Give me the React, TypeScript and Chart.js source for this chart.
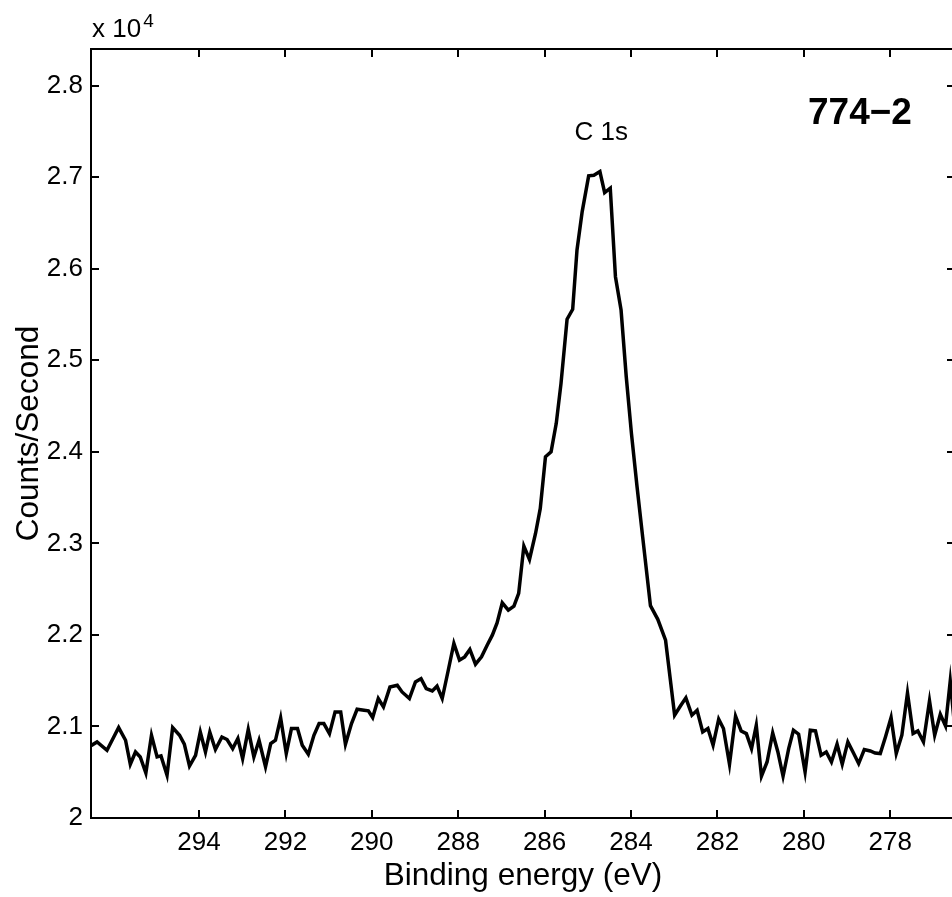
import React, { useEffect, useRef } from "react";
import { Chart, registerables } from "chart.js";

Chart.register(...registerables);

// Binding energy (eV), read left to right (high -> low)
const bindingEnergy: number[] = [
  296.5, 296.36, 296.13, 295.86, 295.7, 295.59, 295.47, 295.36, 295.23, 295.1,
  294.97, 294.88, 294.74, 294.61, 294.45, 294.34, 294.22, 294.08, 293.97, 293.85,
  293.75, 293.62, 293.47, 293.35, 293.22, 293.1, 292.99, 292.86, 292.73, 292.61,
  292.46, 292.34, 292.23, 292.11, 291.98, 291.86, 291.72, 291.61, 291.47, 291.34,
  291.22, 291.11, 290.98, 290.85, 290.72, 290.61, 290.47, 290.34, 290.18, 290.08,
  289.98, 289.85, 289.73, 289.58, 289.41, 289.3, 289.13, 288.99, 288.86, 288.74,
  288.6, 288.49, 288.37, 288.23, 288.1, 287.97, 287.85, 287.73, 287.6, 287.46,
  287.33, 287.21, 287.1, 286.98, 286.84, 286.71, 286.6, 286.48, 286.35, 286.21,
  286.1, 285.98, 285.85, 285.73, 285.62, 285.48, 285.35, 285.25, 285.13, 284.98,
  284.86, 284.72, 284.61, 284.48, 284.36, 284.23, 284.11, 283.99, 283.86, 283.73,
  283.55, 283.38, 283.2, 282.99, 282.86, 282.73, 282.59, 282.47, 282.34, 282.22,
  282.1, 281.97, 281.86, 281.72, 281.58, 281.45, 281.33, 281.21, 281.1, 280.98,
  280.85, 280.72, 280.6, 280.48, 280.35, 280.24, 280.12, 279.97, 279.85, 279.73,
  279.6, 279.48, 279.36, 279.23, 279.11, 278.98, 278.85, 278.73, 278.6, 278.46,
  278.35, 278.23, 278.11, 277.98, 277.86, 277.73, 277.6, 277.47, 277.36, 277.23,
  277.09, 276.97, 276.84, 276.72, 276.61, 276.5,
];

// Counts per second
const countsPerSecond: number[] = [
  20790, 20831, 20740, 20988, 20849, 20587, 20721, 20667, 20492, 20904,
  20667, 20678, 20467, 20988, 20904, 20806, 20568, 20685, 20940, 20721,
  20937, 20748, 20885, 20857, 20758, 20868, 20649, 20966, 20667, 20849,
  20560, 20813, 20849, 21093, 20704, 20977, 20977, 20795, 20696, 20904,
  21032, 21032, 20922, 21159, 21159, 20806, 21032, 21188, 21177, 21170,
  21097, 21305, 21213, 21430, 21450, 21377, 21305, 21487, 21523, 21414,
  21388, 21440, 21305, 21614, 21906, 21724, 21760, 21841, 21680, 21760,
  21888, 21997, 22131, 22350, 22270, 22314, 22453, 22970, 22824, 23108,
  23382, 23946, 24000, 24311, 24748, 25448, 25557, 26205, 26624, 27014,
  27021, 27061, 26831, 26879, 25913, 25549, 24820, 24201, 23618, 23071,
  22320, 22170, 21942, 21123, 21221, 21312, 21123, 21177, 20940, 20977,
  20795, 21079, 20977, 20587, 21112, 20951, 20922, 20758, 21013, 20456,
  20612, 20929, 20721, 20456, 20758, 20959, 20915, 20503, 20959, 20951,
  20685, 20721, 20612, 20806, 20587, 20831, 20710, 20595, 20748, 20732,
  20710, 20704, 20885, 21097, 20704, 20904, 21366, 20922, 20951, 20831,
  21279, 20904, 21133, 21006, 21497, 20960,
];

const xTickValues: number[] = [294, 292, 290, 288, 286, 284, 282, 280, 278];
const yTickValues: number[] = [20000, 21000, 22000, 23000, 24000, 25000, 26000, 27000, 28000];
const xLimits: number[] = [276.5, 296.5];
const yLimits: number[] = [20000, 28400];

const xTitle = "Binding energy (eV)";
const yTitle = "Counts/Second";
const peakLabel = "C 1s";
const peakLabelAt: number[] = [284.69, 27410];
const sampleLabel = "774\u22122";
const sampleLabelAt: number[] = [278.7, 27582];
const exponentBase = "x 10";
const exponentPower = "4";

const FONT = "'Liberation Sans', Arial, Helvetica, sans-serif";

const framePlugin = {
  id: "matlabFrame",
  afterDatasetsDraw(chart: any) {
    const { ctx, chartArea: a, scales } = chart;
    const xs = scales.x;
    const ys = scales.y;
    ctx.save();
    ctx.strokeStyle = "#000";
    ctx.lineWidth = 2;
    ctx.strokeRect(a.left, a.top, a.right - a.left, a.bottom - a.top);
    const tl = 8;
    ctx.beginPath();
    xTickValues.forEach((v) => {
      const px = Math.round(xs.getPixelForValue(v));
      ctx.moveTo(px, a.bottom);
      ctx.lineTo(px, a.bottom - tl);
      ctx.moveTo(px, a.top);
      ctx.lineTo(px, a.top + tl);
    });
    yTickValues.forEach((v) => {
      const py = Math.round(ys.getPixelForValue(v));
      ctx.moveTo(a.left, py);
      ctx.lineTo(a.left + tl, py);
      ctx.moveTo(a.right, py);
      ctx.lineTo(a.right - tl, py);
    });
    ctx.stroke();

    ctx.fillStyle = "#000";
    // exponent label
    ctx.textBaseline = "alphabetic";
    ctx.textAlign = "left";
    ctx.font = `26px ${FONT}`;
    ctx.fillText(exponentBase, a.left + 1, 37);
    const w = ctx.measureText(exponentBase).width;
    ctx.font = `19px ${FONT}`;
    ctx.fillText(exponentPower, a.left + 1 + w + 2, 27);

    // peak label
    ctx.font = `26px ${FONT}`;
    ctx.textAlign = "center";
    ctx.fillText(peakLabel, xs.getPixelForValue(peakLabelAt[0]), ys.getPixelForValue(peakLabelAt[1]));

    // sample label
    ctx.font = `bold 37px ${FONT}`;
    ctx.fillText(sampleLabel, xs.getPixelForValue(sampleLabelAt[0]), ys.getPixelForValue(sampleLabelAt[1]));

    // axis titles
    ctx.font = `31.5px ${FONT}`;
    ctx.textAlign = "center";
    ctx.fillText(xTitle, (a.left + a.right) / 2, 885);
    ctx.save();
    ctx.translate(38, (a.top + a.bottom) / 2);
    ctx.rotate(-Math.PI / 2);
    ctx.fillText(yTitle, 0, 0);
    ctx.restore();

    ctx.restore();
  },
};

export default function App() {
  const ref = useRef<HTMLCanvasElement | null>(null);

  useEffect(() => {
    if (!ref.current) return;
    const points = bindingEnergy.map((e, i) => ({ x: e, y: countsPerSecond[i] }));
    const chart = new Chart(ref.current, {
      type: "line",
      data: {
        datasets: [
          {
            data: points,
            borderColor: "#000",
            borderWidth: 3.5,
            pointRadius: 0,
            tension: 0,
            fill: false,
          },
        ],
      },
      options: {
        animation: false,
        responsive: false,
        devicePixelRatio: 1,
        layout: { padding: { top: 49, right: 20, left: 0, bottom: 0 } },
        plugins: { legend: { display: false }, tooltip: { enabled: false } },
        events: [],
        scales: {
          x: {
            type: "linear",
            reverse: true,
            min: xLimits[0],
            max: xLimits[1],
            grid: { display: false, drawTicks: false },
            border: { display: false },
            afterBuildTicks: (s: any) => {
              s.ticks = xTickValues.map((v) => ({ value: v }));
            },
            afterFit: (s: any) => {
              s.height = 79;
            },
            ticks: {
              color: "#000",
              font: { family: FONT, size: 26 },
              padding: 9,
              maxRotation: 0,
              autoSkip: false,
              callback: (v: any) => String(v),
            },
          },
          y: {
            type: "linear",
            min: yLimits[0],
            max: yLimits[1],
            grid: { display: false, drawTicks: false },
            border: { display: false },
            afterBuildTicks: (s: any) => {
              s.ticks = yTickValues.map((v) => ({ value: v }));
            },
            afterFit: (s: any) => {
              s.width = 91;
            },
            ticks: {
              color: "#000",
              font: { family: FONT, size: 26 },
              padding: 8,
              autoSkip: false,
              callback: (v: any) => String(Math.round(v / 1000) / 10),
            },
          },
        },
      },
      plugins: [framePlugin],
    });
    return () => chart.destroy();
  }, []);

  return (
    <div
      style={{
        position: "absolute",
        left: 0,
        top: 0,
        width: 952,
        height: 897,
        overflow: "hidden",
        background: "#fff",
      }}
    >
      <canvas ref={ref} width={975} height={897} style={{ display: "block", width: 975, height: 897 }} />
    </div>
  );
}
